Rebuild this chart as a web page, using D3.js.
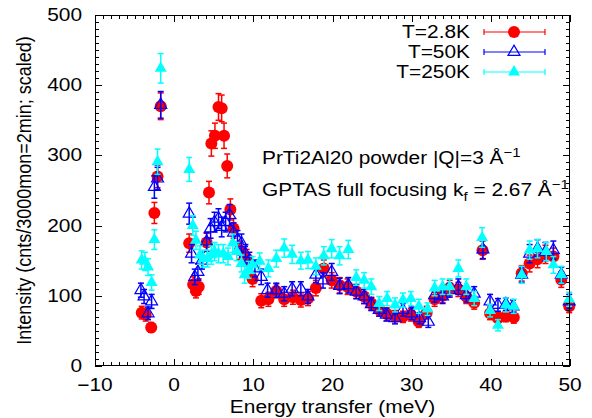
<!DOCTYPE html>
<html>
<head>
<meta charset="utf-8">
<script src="https://cdn.jsdelivr.net/npm/d3@7"></script>
<style>
  html, body { margin: 0; padding: 0; background: #fff; }
  svg { display: block; font-family: "Liberation Sans", Arial, Helvetica, sans-serif; }
</style>
</head>
<body>
<svg id="chart" width="592" height="418"></svg>
<script>
// Energy transfer (meV), intensity and error for each temperature
const eLow = [-4.1,-3.6,-2.9,-2.5,-2.1,-1.7,1.9,2.4,2.75,3.1,4.1,4.4,4.7,5.15,5.6,6.0,6.3,6.7,7.1,7.5,8.3,9.15,9.9,11.0,11.9,12.9,13.9,15.0,16.0,16.9,17.9,18.9,19.9,20.9,21.9,23.0,24.0,24.9,25.9,26.9,27.9,28.9,29.9,30.9,31.9,32.9,33.9,34.8,35.9,36.9,37.9,38.95,39.9,40.9,41.9,42.9,43.9,44.9,45.9,46.9,47.9,48.9,49.9];
const iLow = [76,73,55,218,270,370,175,116,107,113,176,247,317,328,369,367,328,285,223,196,165,154,124,93,95,107,95,98,94,96,111,139,122,115,113,106,99,89,80,74,71,70,73,63,76,95,100,111,109,99,90,165,75,68,71,69,132,146,152,159,156,123,85];
const errLow = [9,9,7,15,16,19,13,11,10,11,13,16,18,18,19,19,18,17,15,14,13,12,11,10,10,10,10,10,10,10,11,12,11,11,11,10,10,9,9,9,8,8,9,8,9,10,10,11,10,10,9,13,9,8,8,8,11,12,12,13,12,11,9];

const eMid = [-4.2,-3.8,-3.3,-2.85,-2.5,-2.1,-1.7,1.9,2.2,2.6,3.0,3.5,4.1,4.6,5.1,5.6,6.0,6.5,7.0,7.5,8.0,8.5,9.0,9.5,10.2,11.0,11.8,12.9,13.9,14.9,16.0,16.9,17.9,18.8,19.9,20.9,22.0,23.0,24.0,24.9,25.9,26.8,27.9,28.9,30.0,31.0,32.1,32.9,33.9,34.8,35.9,36.9,37.9,39.0,39.9,40.9,41.9,42.8,43.9,44.9,45.9,46.9,47.9,48.9,49.9];
const iMid = [108,99,75,92,255,267,372,217,160,127,134,150,177,196,205,210,198,205,215,190,180,175,160,150,139,127,108,108,103,110,110,99,130,122,134,114,115,106,99,88,80,73,68,80,75,68,63,101,99,108,113,101,103,166,92,87,88,85,130,160,167,163,165,130,92];
const errMid = [10,10,9,10,16,16,19,15,13,11,12,12,13,14,14,14,14,14,15,14,13,13,13,12,12,11,10,10,10,10,10,10,11,11,12,11,11,10,10,9,9,9,8,9,9,8,8,10,10,10,11,10,10,13,10,9,9,9,11,13,13,13,13,11,10];

const eHigh = [-4.1,-3.7,-3.3,-2.85,-2.5,-2.1,-1.7,1.9,2.35,2.75,3.26,3.7,4.2,4.7,5.1,5.6,6.2,6.8,7.4,7.9,8.5,8.9,9.4,9.9,10.8,11.9,12.9,13.9,14.9,16.0,16.9,17.9,18.9,19.9,20.9,22.0,23.0,24.0,24.9,25.9,26.9,27.9,28.9,29.9,30.9,32.0,32.9,33.9,34.8,35.9,36.9,37.9,38.9,39.9,40.9,41.9,42.9,43.9,44.9,45.9,47.0,47.9,48.9,49.9];
const iHigh = [151,149,141,119,180,291,424,280,200,179,158,153,153,158,163,160,160,156,175,163,146,130,137,144,149,139,153,168,159,150,151,142,157,167,157,166,126,122,113,89,96,87,94,96,85,81,111,113,113,139,113,96,183,79,58,87,85,130,165,167,163,144,130,95];
const errHigh = [13,13,12,11,14,18,21,17,14,13,13,12,12,13,13,13,13,12,13,13,12,12,12,12,12,12,12,13,13,12,12,12,13,13,13,13,11,11,11,10,10,10,10,10,10,9,11,11,11,12,11,10,14,9,8,10,10,12,13,13,13,12,12,10];

const seriesNames = ["T=2.8K", "T=50K", "T=250K"];
const xTicks = [-10, 0, 10, 20, 30, 40, 50];
const yTicks = [0, 100, 200, 300, 400, 500];

const svg = d3.select("#chart");
const mLeft = 95, mRight = 570, mTop = 15, mBottom = 366;

const x = d3.scaleLinear().domain([-10, 50]).range([mLeft, mRight]);
const y = d3.scaleLinear().domain([0, 500]).range([mBottom, mTop]);

const series = [
  { name: seriesNames[0], color: "#ff0000", sym: "circle", e: eLow, v: iLow, err: errLow },
  { name: seriesNames[1], color: "#0000ff", sym: "open", e: eMid, v: iMid, err: errMid },
  { name: seriesNames[2], color: "#00ffff", sym: "tri", e: eHigh, v: iHigh, err: errHigh }
];

const triPath = d3.symbol().type(d3.symbolTriangle).size(62)();

function drawMarker(g, s) {
  if (s.sym === "circle") {
    g.append("circle").attr("r", 6).attr("fill", s.color);
  } else if (s.sym === "open") {
    g.append("path").attr("d", triPath).attr("fill", "none")
      .attr("stroke", s.color).attr("stroke-width", 1.2);
  } else {
    g.append("path").attr("d", triPath).attr("fill", s.color);
  }
}

const plot = svg.append("g");
series.forEach(s => {
  const pts = s.e.map((e, i) => ({ e, v: s.v[i], err: s.err[i] }));
  const g = plot.append("g");
  const eb = g.selectAll("g.eb").data(pts).enter().append("g")
    .attr("stroke", s.color).attr("stroke-width", 1.5).attr("fill", "none");
  eb.append("line")
    .attr("x1", d => x(d.e)).attr("x2", d => x(d.e))
    .attr("y1", d => y(d.v - d.err)).attr("y2", d => y(d.v + d.err));
  eb.append("line")
    .attr("x1", d => x(d.e) - 3).attr("x2", d => x(d.e) + 3)
    .attr("y1", d => y(d.v + d.err)).attr("y2", d => y(d.v + d.err));
  eb.append("line")
    .attr("x1", d => x(d.e) - 3).attr("x2", d => x(d.e) + 3)
    .attr("y1", d => y(d.v - d.err)).attr("y2", d => y(d.v - d.err));
  g.selectAll("g.m").data(pts).enter().append("g")
    .attr("transform", d => `translate(${x(d.e)},${y(d.v)})`)
    .each(function() { drawMarker(d3.select(this), s); });
});

// Frame and inward ticks on all four sides
const axes = svg.append("g").attr("stroke", "#000").attr("stroke-width", 1).attr("fill", "none");
axes.append("rect").attr("x", mLeft + 0.5).attr("y", mTop + 0.5)
  .attr("width", mRight - mLeft - 1).attr("height", mBottom - mTop - 1);

const xMinor = d3.range(-10, 51, 1);
const yMinor = d3.range(0, 501, 10);
xMinor.forEach(v => {
  const len = (v % 10 === 0) ? 7 : 4;
  const px = Math.round(x(v)) + 0.5;
  axes.append("line").attr("x1", px).attr("x2", px).attr("y1", mBottom).attr("y2", mBottom - len);
  axes.append("line").attr("x1", px).attr("x2", px).attr("y1", mTop).attr("y2", mTop + len);
});
yMinor.forEach(v => {
  const len = (v % 100 === 0) ? 7 : 4;
  const py = Math.round(y(v)) + 0.5;
  axes.append("line").attr("y1", py).attr("y2", py).attr("x1", mLeft).attr("x2", mLeft + len);
  axes.append("line").attr("y1", py).attr("y2", py).attr("x1", mRight).attr("x2", mRight - len);
});

// Text is set slightly wide, as in the original output
const fs = 18, sup = 13, wide = 1.16;
function label(parent, px, py, anchor, extra) {
  return parent.append("text")
    .attr("transform", `translate(${px},${py}) scale(${wide},1)${extra || ""}`)
    .attr("text-anchor", anchor).attr("font-size", fs);
}

const fmt = v => (v < 0 ? "\u2212" + Math.abs(v) : String(v));
const tl = svg.append("g");
xTicks.forEach(v => label(tl, x(v), mBottom + 25, "middle").text(fmt(v)));
yTicks.forEach(v => label(tl, mLeft - 13, y(v) + 6, "end").text(fmt(v)));

label(svg, (mLeft + mRight) / 2, 413, "middle").text("Energy transfer (meV)");
label(svg, 31, (mTop + mBottom) / 2, "middle", " rotate(-90)")
  .text("Intensity (cnts/3000mon=2min; scaled)");

// Sample description
const note1 = label(svg, 262, 164, "start");
note1.append("tspan").text("PrTi2Al20 powder |Q|=3 \u00C5");
note1.append("tspan").attr("dy", -7).attr("font-size", sup).text("\u22121");
const note2 = label(svg, 262, 196, "start");
note2.append("tspan").text("GPTAS full focusing k");
note2.append("tspan").attr("dy", 5).attr("font-size", sup).text("f");
note2.append("tspan").attr("dy", -5).text(" = 2.67 \u00C5");
note2.append("tspan").attr("dy", -7).attr("font-size", sup).text("\u22121");

// Legend
const leg = svg.append("g");
series.forEach((s, i) => {
  const ly = 32 + i * 20;
  label(leg, 470, ly + 6, "end").text(s.name);
  const lg = leg.append("g").attr("stroke", s.color).attr("stroke-width", 1.2);
  lg.append("line").attr("x1", 484).attr("x2", 545).attr("y1", ly).attr("y2", ly);
  lg.append("line").attr("x1", 484).attr("x2", 484).attr("y1", ly - 3).attr("y2", ly + 3);
  lg.append("line").attr("x1", 545).attr("x2", 545).attr("y1", ly - 3).attr("y2", ly + 3);
  const m = leg.append("g").attr("transform", `translate(514,${ly})`);
  drawMarker(m, s);
});
</script>
</body>
</html>
